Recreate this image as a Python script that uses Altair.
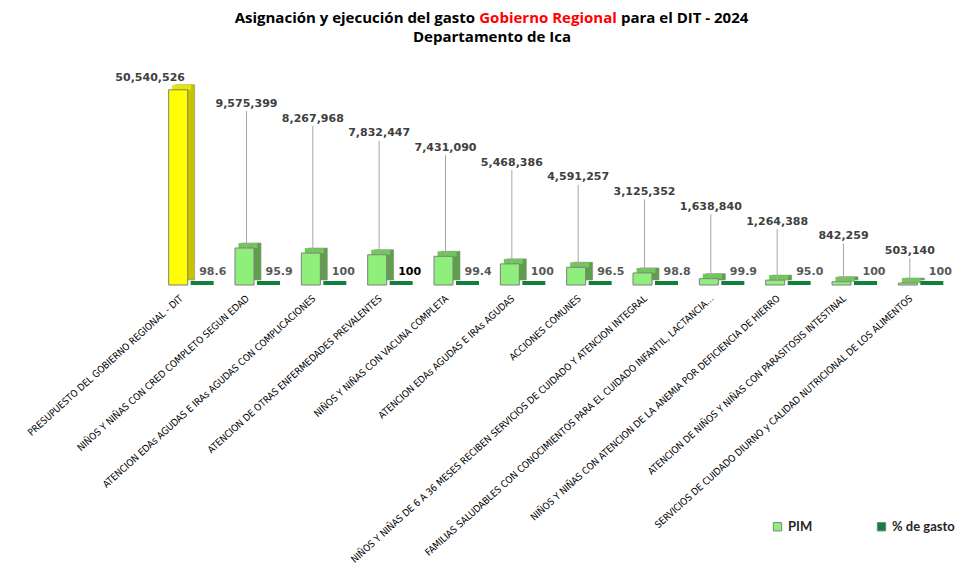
import altair as alt
import pandas as pd

categories = [
    "PRESUPUESTO DEL GOBIERNO REGIONAL - DIT",
    "NIÑOS Y NIÑAS CON CRED COMPLETO SEGUN EDAD",
    "ATENCION EDAs AGUDAS E IRAs AGUDAS CON COMPLICACIONES",
    "ATENCION DE OTRAS ENFERMEDADES PREVALENTES",
    "NIÑOS Y NIÑAS CON VACUNA COMPLETA",
    "ATENCION EDAs AGUDAS E IRAs AGUDAS",
    "ACCIONES COMUNES",
    "NIÑOS Y NIÑAS DE 6 A 36 MESES RECIBEN SERVICIOS DE CUIDADO Y ATENCION INTEGRAL",
    "FAMILIAS SALUDABLES CON CONOCIMIENTOS PARA EL CUIDADO INFANTIL, LACTANCIA...",
    "NIÑOS Y NIÑAS CON ATENCION DE LA ANEMIA POR DEFICIENCIA DE HIERRO",
    "ATENCION DE NIÑOS Y NIÑAS CON PARASITOSIS INTESTINAL",
    "SERVICIOS DE CUIDADO DIURNO y CALIDAD NUTRICIONAL DE LOS ALIMENTOS",
]
pim = [50540526, 9575399, 8267968, 7832447, 7431090, 5468386,
       4591257, 3125352, 1638840, 1264388, 842259, 503140]
pct = [98.6, 95.9, 100, 100, 99.4, 100, 96.5, 98.8, 99.9, 95.0, 100, 100]
series_names = ["PIM", "% de gasto"]
title_parts = ["Asignación y ejecución del gasto", "Gobierno Regional",
               "para el DIT - 2024", "Departamento de Ica"]

Y_MAX = 58e6
df = pd.DataFrame({"cat": categories, "pim": pim, "pct": pct})
df["idx"] = range(len(df))
df["pim_label"] = [f"{v:,}" for v in pim]
df["pct_label"] = ["100" if v == 100 else f"{v:.1f}" for v in pct]
# staggered label heights (annotation placement, in data units)
df["lab_pos"] = [53.6e6 if i == 0 else 46.9e6 - 3.81e6 * (i - 1) for i in df["idx"]]
df["line_top"] = df["lab_pos"] - 1.9e6

xenc = alt.X("cat:N", sort=categories,
             scale=alt.Scale(paddingInner=0, paddingOuter=0),
             axis=alt.Axis(title=None, labelAngle=-42,
                           labelFont="DejaVu Sans Condensed, Liberation Sans",
                           labelFontSize=9.7, labelColor="#000000", ticks=False,
                           domain=False, labelLimit=500, labelPadding=8))
yscale = alt.Scale(domain=[0, Y_MAX])

color_scale = alt.Scale(domain=series_names, range=["#8ef07a", "#12803a"])
legend = alt.Legend(title=None, orient="none", legendX=626, legendY=459,
                    direction="horizontal", symbolType="square", symbolSize=70,
                    symbolStrokeColor="#808080", symbolStrokeWidth=1, symbolOpacity=1,
                    labelFont="Lato", labelFontWeight="bold", labelFontSize=13,
                    labelColor="#262626", columnPadding=62)

base = alt.Chart(df).encode(x=xenc)

side = base.mark_bar(width=19, xOffset=7, yOffset=-5, y2Offset=-5,
                     stroke="#8a8a8a", strokeWidth=0.6).encode(
    y=alt.Y("pim:Q", scale=yscale, axis=None),
    color=alt.condition("datum.idx == 0", alt.value("#c4c400"), alt.value("#5f9e4b")),
)
top = base.mark_tick(thickness=5, size=19, xOffset=3.5, yOffset=-2.5, opacity=1).encode(
    y=alt.Y("pim:Q", scale=yscale, axis=None),
    color=alt.condition("datum.idx == 0", alt.value("#e6e600"), alt.value("#74c55c")),
)
front = base.transform_calculate(series="'PIM'").mark_bar(
    width=19, stroke="#7f7f7f", strokeWidth=1).encode(
    y=alt.Y("pim:Q", scale=yscale, axis=None),
    color=alt.condition("datum.idx == 0", alt.value("#ffff00"),
                        alt.Color("series:N", scale=color_scale, legend=legend)),
)
slab = base.transform_calculate(series="'% de gasto'").mark_tick(
    thickness=4, size=23, xOffset=24, yOffset=-2, opacity=1).encode(
    y=alt.Y("pct:Q", scale=yscale, axis=None),
    color=alt.Color("series:N", scale=color_scale, legend=legend),
)
leaders = base.transform_filter("datum.idx > 0").mark_rule(
    color="#a6a6a6", strokeWidth=1, xOffset=2).encode(
    y=alt.Y("line_top:Q", scale=yscale, axis=None),
    y2="pim:Q",
)
pim_labels = base.transform_filter("datum.idx > 0").mark_text(
    font="DejaVu Sans", fontWeight="bold", fontSize=11, color="#404040", dx=2).encode(
    y=alt.Y("lab_pos:Q", scale=yscale, axis=None),
    text="pim_label:N",
)
first_label = base.transform_filter("datum.idx == 0").mark_text(
    font="DejaVu Sans", fontWeight="bold", fontSize=11, color="#404040", dx=-28).encode(
    y=alt.Y("lab_pos:Q", scale=yscale, axis=None),
    text="pim_label:N",
)
pct_labels = base.mark_text(
    font="DejaVu Sans", fontWeight="bold", fontSize=11, align="left",
    dx=21, dy=-13).encode(
    y=alt.Y("pct:Q", scale=yscale, axis=None),
    text="pct_label:N",
    color=alt.condition("datum.idx == 3", alt.value("#000000"), alt.value("#595959")),
)

tdf = pd.DataFrame({"t": [0]})
def ttext(txt, x, y, align, color):
    return alt.Chart(tdf).mark_text(
        font="Open Sans", fontWeight="bold", fontSize=15, align=align, color=color,
        baseline="middle").encode(x=alt.value(x), y=alt.value(y), text=alt.value(txt))

titles = (ttext(title_parts[0], 330, -43, "right", "#000000")
          + ttext(title_parts[1], 403, -43, "center", "#ff0000")
          + ttext(title_parts[2], 476, -43, "left", "#000000")
          + ttext(title_parts[3], 347, -24, "center", "#000000"))

chart = alt.layer(side, top, front, slab, leaders, pim_labels, first_label,
                  pct_labels, titles).properties(
    width=796, height=224,
    autosize=alt.AutoSizeParams(type="none"),
    padding={"left": 137, "top": 53, "right": 20, "bottom": 290},
    background="white",
).configure_view(stroke=None)

chart.save("out.html", embed_options={"renderer": "svg", "actions": False})
